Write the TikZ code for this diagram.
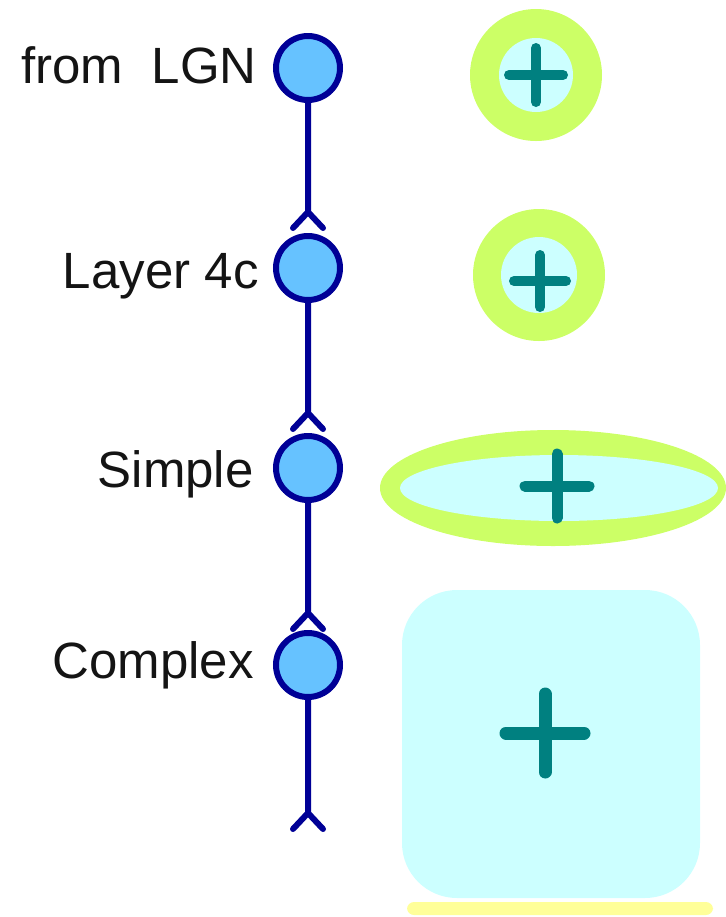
\documentclass[tikz,border=0pt]{standalone}
\usepackage{fontspec}
\setmainfont{Liberation Sans}
\usetikzlibrary{positioning,calc}
\definecolor{cellblue}{RGB}{102,194,255}
\definecolor{axonblue}{RGB}{0,0,150}
\definecolor{surroundgreen}{RGB}{204,255,102}
\definecolor{centercyan}{RGB}{204,255,255}
\definecolor{plusteal}{RGB}{0,128,128}
\definecolor{baryellow}{RGB}{255,255,153}
\tikzset{
  cell/.style={circle, draw=axonblue, fill=cellblue, line width=3pt, minimum size=32pt, inner sep=0pt},
  axon/.style={draw=axonblue, line width=3pt, line cap=round, line join=round},
  layerlabel/.style={anchor=base east, font=\fontsize{25.5}{30}\selectfont, text=black!92, inner sep=0pt}
}
\begin{document}
\begin{tikzpicture}[x=0.5pt,y=-0.5pt]
    \useasboundingbox (0,0) rectangle (725,917);
    % cells along the pathway
    \node[cell] (lgn) at (308,68) {};
    \node[cell] (l4c) at (308,268) {};
    \node[cell] (simple) at (308,468) {};
    \node[cell] (complex) at (308,665) {};
    \node[layerlabel] (lgnlabel) at (257,83) {from\ \ LGN};
    \node[layerlabel] (l4clabel) at (259,288) {Layer 4c};
    \node[layerlabel] (simplelabel) at (254,487) {Simple};
    \node[layerlabel] (complexlabel) at (254,678) {Complex};
    % axons ending in synapses
    \coordinate (syn1) at (308,212);
    \coordinate (syn2) at (308,413);
    \coordinate (syn3) at (308,613);
    \coordinate (syn4) at (308,813);
    \foreach \cell/\syn in {lgn/syn1, l4c/syn2, simple/syn3, complex/syn4} {
        \draw[axon] (\cell) -- (\syn) -- ++(-15,16) (\syn) -- ++(15,16);
    }
    % receptive fields
    \fill[surroundgreen] (536,75) circle (66);
    \fill[centercyan] (536,75) circle (37);
    \fill[surroundgreen] (539,275) circle (66);
    \fill[centercyan] (539,275) circle (38);
    \fill[surroundgreen] (553,488) ellipse [x radius=173, y radius=58];
    \fill[centercyan] (559,488) ellipse [x radius=159, y radius=33];
    \fill[centercyan, rounded corners=27.5pt] (402,590) rectangle (700,898);
    \fill[baryellow, rounded corners=3.5pt] (407,902) rectangle (713,915);
    \foreach \px/\py/\h/\w in {536/75/27/5pt, 540/281/26/5pt, 557/486/32/5.5pt, 545/733/39/6.5pt} {
        \draw[plusteal, line width=\w, line cap=round] (\px-\h,\py) -- (\px+\h,\py) (\px,\py-\h) -- (\px,\py+\h);
    }
\end{tikzpicture}
\end{document}
